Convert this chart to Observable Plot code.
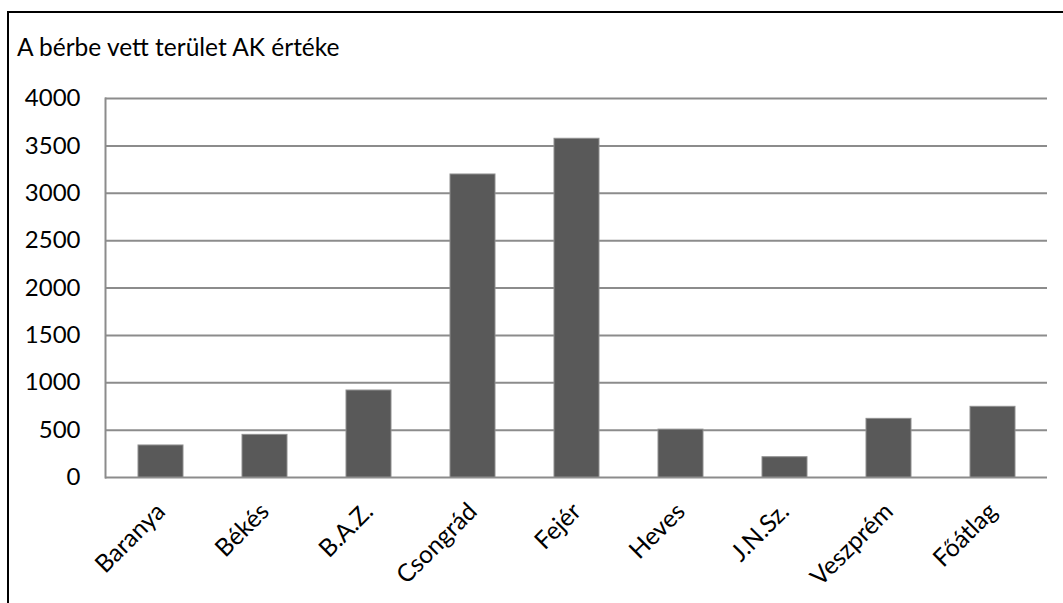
<!DOCTYPE html>
<html>
<head>
<meta charset="utf-8">
<script src="https://cdn.jsdelivr.net/npm/d3@7"></script>
<script src="https://cdn.jsdelivr.net/npm/@observablehq/plot@0.6"></script>
<style>
  html, body { margin: 0; padding: 0; background: #fff; }
  #wrap { position: relative; width: 1063px; height: 603px; overflow: hidden; }
  #frame { position: absolute; left: 7px; top: 11px; width: 1100px; height: 700px;
           border-left: 2px solid #000; border-top: 2px solid #000; }
  #title { position: absolute; left: 17px; top: 32px; font-family: Lato, sans-serif;
           font-size: 24.5px; color: #000; white-space: nowrap; }
  #chart { position: absolute; left: 0; top: 0; }
</style>
</head>
<body>
<div id="wrap">
  <div id="frame"></div>
  <div id="title">A bérbe vett terület AK értéke</div>
  <div id="chart"></div>
</div>
<script>
const categories = ["Baranya", "Békés", "B.A.Z.", "Csongrád", "Fejér", "Heves", "J.N.Sz.", "Veszprém", "Főátlag"];
const values = [338, 450, 918, 3198, 3575, 505, 214, 619, 746];
const yTicks = [0, 500, 1000, 1500, 2000, 2500, 3000, 3500, 4000];

const data = categories.map((c, i) => ({region: c, value: values[i]}));

const chart = Plot.plot({
  width: 1063,
  height: 603,
  marginLeft: 105,
  marginRight: 16,
  marginTop: 98,
  marginBottom: 126,
  style: {fontFamily: "Lato, sans-serif", fontSize: "24px", color: "#000", background: "transparent"},
  x: {domain: categories, paddingInner: 0.57, paddingOuter: 0.285, label: null},
  y: {domain: [0, 4000], label: null},
  marks: [
    Plot.gridY(yTicks, {stroke: "#8c8c8c", strokeOpacity: 1, strokeWidth: 2}),
    Plot.frame({anchor: "left", stroke: "#8c8c8c", strokeOpacity: 1, strokeWidth: 2}),
    Plot.barY(data, {x: "region", y: "value", fill: "#595959", stroke: "#8f8f8f", strokeWidth: 1}),
    Plot.axisY(yTicks, {tickSize: 0, tickPadding: 25, tickFormat: d => String(d), label: null, fill: "#000", fontSize: 24}),
    Plot.axisX({tickSize: 0, tickPadding: 30, tickRotate: -45, label: null, fill: "#000", fontSize: 24.5})
  ]
});
document.getElementById("chart").appendChild(chart);
</script>
</body>
</html>
